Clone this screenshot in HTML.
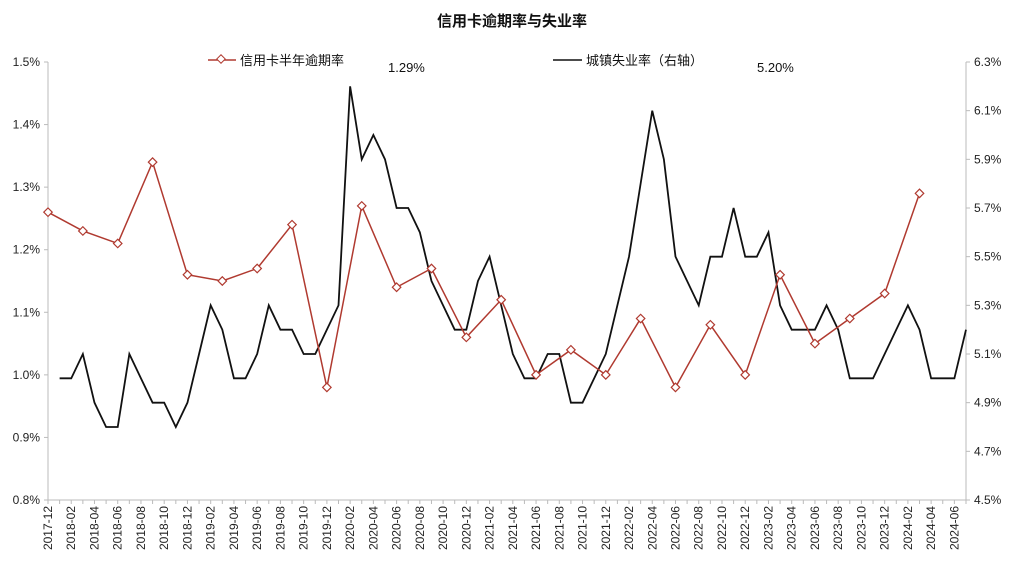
<!DOCTYPE html>
<html><head><meta charset="utf-8">
<style>
html,body{margin:0;padding:0;background:#fff;}
svg{display:block;font-family:"Liberation Sans","Noto Sans CJK SC",sans-serif;}
</style></head>
<body>
<svg id="chart" width="1024" height="578" viewBox="0 0 1024 578" xmlns="http://www.w3.org/2000/svg">
<text x="512" y="26" text-anchor="middle" font-size="15" font-weight="bold" fill="#111">信用卡逾期率与失业率</text>
<g>
 <g>
  <line x1="208" y1="60" x2="236" y2="60" stroke="#b03a30" stroke-width="1.5"/>
  <rect x="218" y="56" width="6" height="6" fill="#fff" stroke="#b03a30" transform="rotate(45 221 59)"/>
  <text x="240" y="65" font-size="13" fill="#111">信用卡半年逾期率</text>
 </g>
 <text x="388" y="72" font-size="13" fill="#111">1.29%</text>
 <g>
  <line x1="553" y1="60" x2="582" y2="60" stroke="#111" stroke-width="1.5"/>
  <text x="586" y="65" font-size="13" fill="#111">城镇失业率（右轴）</text>
 </g>
 <text x="757" y="72" font-size="13" fill="#111">5.20%</text>
</g>
<g id="axes"></g>
<g id="series"></g>
</svg>
<script>
const leftTicks=[0.8,0.9,1.0,1.1,1.2,1.3,1.4,1.5];
const rightTicks=[4.5,4.7,4.9,5.1,5.3,5.5,5.7,5.9,6.1,6.3];
// unemployment monthly from 2018-01 to 2024-07
const unemployment=[5.0,5.0,5.1,4.9,4.8,4.8,5.1,5.0,4.9,4.9,4.8,4.9,
5.1,5.3,5.2,5.0,5.0,5.1,5.3,5.2,5.2,5.1,5.1,5.2,
5.3,6.2,5.9,6.0,5.9,5.7,5.7,5.6,5.4,5.3,5.2,5.2,
5.4,5.5,5.3,5.1,5.0,5.0,5.1,5.1,4.9,4.9,5.0,5.1,
5.3,5.5,5.8,6.1,5.9,5.5,5.4,5.3,5.5,5.5,5.7,5.5,
5.5,5.6,5.3,5.2,5.2,5.2,5.3,5.2,5.0,5.0,5.0,5.1,
5.2,5.3,5.2,5.0,5.0,5.0,5.2];
// credit card overdue rate quarterly from 2017-12 to 2024-03
const creditCard=[1.26,1.23,1.21,1.34,1.16,1.15,1.17,1.24,0.98,1.27,1.14,1.17,1.06,1.12,1.00,1.04,1.00,1.09,0.98,1.08,1.00,1.16,1.05,1.09,1.13,1.29];
const startYear=2017,startMonth=12,nMonths=80;
const X0=48,X1=966,YT=62,YB=500;
const step=(X1-X0)/(nMonths-1);
const xm=i=>X0+i*step;
const yl=v=>YB-(v-0.8)/(1.5-0.8)*(YB-YT);
const yr=v=>YB-(v-4.5)/(6.3-4.5)*(YB-YT);
const NS='http://www.w3.org/2000/svg';
function mk(tag,attrs,parent){const e=document.createElementNS(NS,tag);for(const k in attrs)e.setAttribute(k,attrs[k]);parent.appendChild(e);return e;}
const axes=document.getElementById('axes'),series=document.getElementById('series');
let e;
e=mk('line',{x1:X0,y1:YT,x2:X0,y2:YB,stroke:'#bbb'},axes);


e=mk('line',{x1:X1,y1:YT,x2:X1,y2:YB,stroke:'#bbb'},axes);


e=mk('line',{x1:X0,y1:YB,x2:X1,y2:YB,stroke:'#bbb'},axes);


leftTicks.forEach(v=>{
 mk('line',{x1:X0-4,y1:yl(v),x2:X0,y2:yl(v),stroke:'#bbb'},axes);
 e=mk('text',{x:X0-8,y:yl(v)+4,'text-anchor':'end','font-size':12,fill:'#222'},axes);
 e.textContent=v.toFixed(1)+'%';
 
 
});
rightTicks.forEach(v=>{
 mk('line',{x1:X1,y1:yr(v),x2:X1+4,y2:yr(v),stroke:'#bbb'},axes);
 e=mk('text',{x:X1+8,y:yr(v)+4,'font-size':12,fill:'#222'},axes);
 e.textContent=v.toFixed(1)+'%';
 
 
});
for(let i=0;i<nMonths;i++){
 const x=xm(i);
 mk('line',{x1:x,y1:YB,x2:x,y2:YB+4,stroke:'#bbb'},axes);
 if(i%2===0){
  const m0=startMonth-1+i;const yy=startYear+Math.floor(m0/12);const mm=m0%12+1;
  e=mk('text',{x:x+4,y:YB+6,'text-anchor':'end','font-size':12,fill:'#222',transform:`rotate(-90 ${x+4} ${YB+6})`},axes);
  e.textContent=yy+'-'+String(mm).padStart(2,'0');
  
  
 }
}
e=mk('polyline',{points:unemployment.map((v,i)=>xm(i+1)+','+yr(v)).join(' '),fill:'none',stroke:'#111','stroke-width':1.8},series);


e=mk('polyline',{points:creditCard.map((v,i)=>xm(i*3)+','+yl(v)).join(' '),fill:'none',stroke:'#b03a30','stroke-width':1.5},series);


creditCard.forEach((v,i)=>{
 const x=xm(i*3),y=yl(v);
 e=mk('rect',{x:x-3,y:y-3,width:6,height:6,fill:'#fff',stroke:'#b03a30','stroke-width':1.2,transform:`rotate(45 ${x} ${y})`},series);
 
 
});
</script>
</body></html>
